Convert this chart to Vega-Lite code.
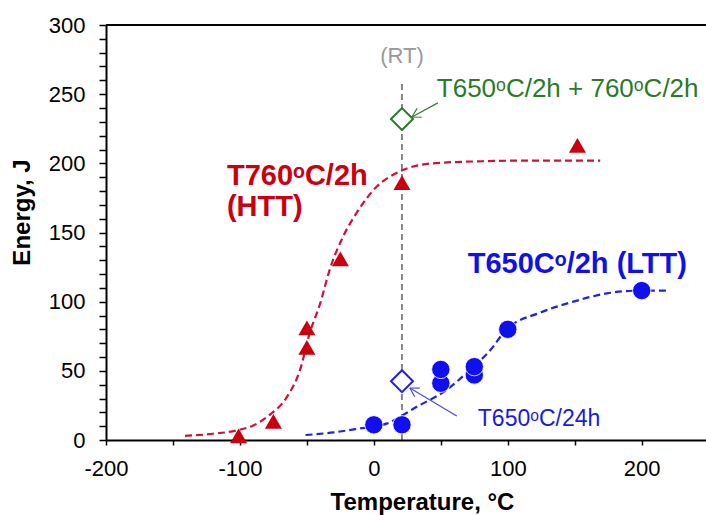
{
  "$schema": "https://vega.github.io/schema/vega-lite/v6.json",
  "width": 600,
  "height": 415,
  "autosize": {"type": "none"},
  "padding": {"left": 106, "top": 25, "right": 0, "bottom": 75},
  "background": "white",
  "config": {
    "view": {"stroke": null},
    "font": "Liberation Sans",
    "axis": {
      "grid": false,
      "domainColor": "black",
      "domainWidth": 2,
      "tickColor": "black",
      "tickWidth": 1.5,
      "labelColor": "black",
      "labelFont": "Liberation Sans",
      "labelFontSize": 22,
      "labelFlush": false,
      "labelOverlap": false,
      "titleFont": "Liberation Sans",
      "titleColor": "black",
      "titleFontWeight": "bold"
    }
  },
  "encoding": {
    "x": {
      "field": "T",
      "type": "quantitative",
      "scale": {"domain": [-200, 248], "nice": false, "zero": false},
      "axis": {
        "title": "Temperature, °C",
        "values": [-200, -150, -100, -50, 0, 50, 100, 150, 200],
        "labelExpr": "datum.value % 100 === 0 ? '' + datum.value : ''",
        "tickSize": 5,
        "labelPadding": 13,
        "titleFontSize": 24,
        "titleX": 316,
        "titleY": 69,
        "titleAlign": "center",
        "titleBaseline": "alphabetic"
      }
    },
    "y": {
      "field": "E",
      "type": "quantitative",
      "scale": {"domain": [0, 300], "nice": false, "zero": false},
      "axis": {
        "title": "Energy, J",
        "values": [0, 10, 20, 30, 40, 50, 60, 70, 80, 90, 100, 110, 120, 130, 140, 150, 160, 170, 180, 190, 200, 210, 220, 230, 240, 250, 260, 270, 280, 290, 300],
        "labelExpr": "datum.value % 50 === 0 ? '' + datum.value : ''",
        "tickSize": 7,
        "labelPadding": 14,
        "titleFontSize": 24,
        "titleAngle": -90,
        "titleX": -84,
        "titleY": 187,
        "titleAlign": "center",
        "titleBaseline": "middle"
      }
    }
  },
  "layer": [
    {
      "data": {"values": [{"T": -200, "T2": 248, "E": 300}]},
      "mark": {"type": "rule", "color": "black", "strokeWidth": 2},
      "encoding": {"x2": {"field": "T2"}}
    },
    {
      "data": {"values": [{"T": 21, "E": 0, "E2": 260}]},
      "mark": {"type": "rule", "color": "#111111", "strokeWidth": 1, "strokeDash": [6, 4]},
      "encoding": {"y2": {"field": "E2"}}
    },
    {
      "data": {"values": [
        {"T": -141, "E": 3}, {"T": -120, "E": 4.5}, {"T": -102, "E": 7}, {"T": -90, "E": 10.5},
        {"T": -78, "E": 18}, {"T": -65, "E": 31}, {"T": -55, "E": 51}, {"T": -48, "E": 77},
        {"T": -40, "E": 99}, {"T": -33, "E": 123}, {"T": -23, "E": 147}, {"T": -13, "E": 164},
        {"T": 2, "E": 183}, {"T": 19, "E": 194}, {"T": 44, "E": 200}, {"T": 81, "E": 201.5},
        {"T": 120, "E": 202}, {"T": 169, "E": 202}
      ]},
      "mark": {"type": "line", "color": "#d01038", "strokeWidth": 2.2, "strokeDash": [7, 4], "interpolate": "monotone"},
      "encoding": {"order": {"field": "T", "type": "quantitative"}}
    },
    {
      "data": {"values": [
        {"T": -51, "E": 3.6}, {"T": -30, "E": 5.5}, {"T": -13, "E": 8}, {"T": 10, "E": 12},
        {"T": 32, "E": 24}, {"T": 54, "E": 36}, {"T": 72, "E": 51}, {"T": 87, "E": 65},
        {"T": 99, "E": 80}, {"T": 124, "E": 92}, {"T": 149, "E": 100}, {"T": 174, "E": 106},
        {"T": 199, "E": 108}, {"T": 221, "E": 108}
      ]},
      "mark": {"type": "line", "color": "#2222e0", "strokeWidth": 2.2, "strokeDash": [7, 4], "interpolate": "monotone"},
      "encoding": {"order": {"field": "T", "type": "quantitative"}}
    },
    {
      "data": {"values": [
        {"T": -101, "E": 3}, {"T": -75, "E": 13.5}, {"T": -50, "E": 67}, {"T": -50, "E": 81},
        {"T": -25, "E": 131}, {"T": 21, "E": 186}, {"T": 152, "E": 213}
      ]},
      "mark": {"type": "point", "shape": "triangle-up", "filled": true, "color": "#c80010", "size": 290, "opacity": 1}
    },
    {
      "data": {"values": [
        {"T": 0, "E": 11}, {"T": 21, "E": 11}, {"T": 50, "E": 41}, {"T": 50, "E": 51},
        {"T": 75, "E": 47}, {"T": 75, "E": 53}, {"T": 100, "E": 80}, {"T": 200, "E": 108}
      ]},
      "mark": {"type": "point", "shape": "circle", "filled": true, "color": "#0f0ff0", "size": 335, "opacity": 1, "stroke": "white", "strokeWidth": 0.8}
    },
    {
      "data": {"values": [{"T": 21, "E": 232}]},
      "mark": {"type": "point", "shape": "diamond", "filled": false, "fill": "white", "fillOpacity": 1, "stroke": "#2a7a2a", "strokeWidth": 2, "size": 484, "opacity": 1}
    },
    {
      "data": {"values": [{"T": 21, "E": 42.5}]},
      "mark": {"type": "point", "shape": "diamond", "filled": false, "fill": "white", "fillOpacity": 1, "stroke": "#2020e0", "strokeWidth": 2, "size": 484, "opacity": 1}
    },
    {
      "data": {"values": [
        {"T": 47.8, "E": 243.7, "T2": 28.4, "E2": 233.5},
        {"T": 35.8, "E": 233.3, "T2": 28.4, "E2": 233.5},
        {"T": 32.3, "E": 239.7, "T2": 28.4, "E2": 233.5}
      ]},
      "mark": {"type": "rule", "color": "#3a7a3a", "strokeWidth": 1.2},
      "encoding": {"x2": {"field": "T2"}, "y2": {"field": "E2"}}
    },
    {
      "data": {"values": [
        {"T": 61.9, "E": 17.4, "T2": 26.9, "E2": 37.6},
        {"T": 30.5, "E": 31.3, "T2": 26.9, "E2": 37.6},
        {"T": 34.3, "E": 37.5, "T2": 26.9, "E2": 37.6}
      ]},
      "mark": {"type": "rule", "color": "#4a4ad8", "strokeWidth": 1.2},
      "encoding": {"x2": {"field": "T2"}, "y2": {"field": "E2"}}
    },
    {
      "data": {"values": [{"T": 21, "E": 272.4, "label": "(RT)"}]},
      "mark": {"type": "text", "font": "Liberation Sans", "fontSize": 22, "color": "#999999", "align": "center", "baseline": "alphabetic"},
      "encoding": {"text": {"field": "label"}}
    },
    {
      "data": {"values": [{"T": 47, "E": 248.2, "label": "T650ᵒC/2h + 760ᵒC/2h"}]},
      "mark": {"type": "text", "font": "Liberation Sans", "fontSize": 26, "color": "#2a7a2a", "align": "left", "baseline": "alphabetic"},
      "encoding": {"text": {"field": "label"}}
    },
    {
      "data": {"values": [
        {"T": -109.7, "E": 184.4, "label": "T760ᵒC/2h"},
        {"T": -109.7, "E": 162, "label": "(HTT)"}
      ]},
      "mark": {"type": "text", "font": "Liberation Sans", "fontSize": 29, "fontWeight": "bold", "color": "#c80010", "align": "left", "baseline": "alphabetic"},
      "encoding": {"text": {"field": "label"}}
    },
    {
      "data": {"values": [{"T": 70.1, "E": 120.8, "label": "T650Cᵒ/2h (LTT)"}]},
      "mark": {"type": "text", "font": "Liberation Sans", "fontSize": 29, "fontWeight": "bold", "color": "#1010e8", "align": "left", "baseline": "alphabetic"},
      "encoding": {"text": {"field": "label"}}
    },
    {
      "data": {"values": [{"T": 77.6, "E": 10.1, "label": "T650ᵒC/24h"}]},
      "mark": {"type": "text", "font": "Liberation Sans", "fontSize": 23, "color": "#1a1ae0", "align": "left", "baseline": "alphabetic"},
      "encoding": {"text": {"field": "label"}}
    }
  ]
}
